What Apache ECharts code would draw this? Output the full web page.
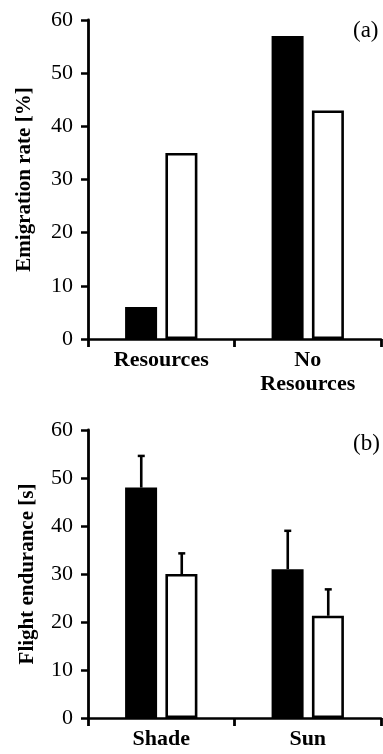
<!DOCTYPE html>
<html>
<head>
<meta charset="utf-8">
<script src="https://cdn.jsdelivr.net/npm/echarts@6/dist/echarts.min.js"></script>
<style>
html,body{margin:0;padding:0;background:#fff;}
#chart{width:383px;height:754px;}
</style>
</head>
<body>
<div id="chart"></div>
<script>
// Panel (a)
var catsA = ['Resources', 'No\nResources'];
var blackA = [6, 57];
var whiteA = [35, 43];
// Panel (b)
var catsB = ['Shade', 'Sun'];
var blackB = [48, 31];
var blackBErr = [54.6, 39];
var whiteB = [30, 21.3];
var whiteBErr = [34.3, 26.8];
var yTicks = [0, 10, 20, 30, 40, 50, 60];

var FONT = "'Liberation Serif','Times New Roman',serif";
var chart = echarts.init(document.getElementById('chart'));

function yAxis(gridIndex, name, gap) {
  return {
    gridIndex: gridIndex, type: 'value', min: yTicks[0], max: yTicks[yTicks.length - 1], interval: 10,
    name: name, nameLocation: 'middle', nameGap: gap, nameRotate: 90,
    nameTextStyle: {fontFamily: FONT, fontWeight: 'bold', fontSize: 21, color: '#000'},
    axisLine: {show: true, lineStyle: {color: '#000', width: 2.8}},
    axisTick: {show: true, inside: false, length: 7, lineStyle: {color: '#000', width: 2.5}},
    axisLabel: {fontFamily: FONT, fontSize: 22, color: '#000', margin: 15},
    splitLine: {show: false}
  };
}
function xAxis(gridIndex, data) {
  return {
    gridIndex: gridIndex, type: 'category', data: data, boundaryGap: true,
    axisLine: {show: true, lineStyle: {color: '#000', width: 2.5}},
    axisTick: {show: true, alignWithLabel: false, length: 8, lineStyle: {color: '#000', width: 2.8}},
    axisLabel: {fontFamily: FONT, fontWeight: 'bold', fontSize: 22, color: '#000', margin: 9, lineHeight: 24, interval: 0}
  };
}
function barSeries(idx, data, fill) {
  return {
    type: 'bar', xAxisIndex: idx, yAxisIndex: idx, data: data,
    barWidth: 32, barGap: '26%',
    itemStyle: {color: fill, borderColor: '#000', borderWidth: 2.6},
    silent: true, animation: false
  };
}
function errSeries(vals, errs, offset) {
  var d = vals.map(function (v, i) { return [i, v, errs[i]]; });
  return {
    type: 'custom', xAxisIndex: 1, yAxisIndex: 1, data: d, z: 10, animation: false, silent: true,
    renderItem: function (params, api) {
      var base = api.coord([api.value(0), api.value(1)]);
      var top = api.coord([api.value(0), api.value(2)]);
      var x = base[0] + offset;
      return {type: 'group', children: [
        {type: 'line', shape: {x1: x, y1: base[1], x2: x, y2: top[1]}, style: {stroke: '#000', lineWidth: 2.6}},
        {type: 'line', shape: {x1: x - 3.5, y1: top[1], x2: x + 3.5, y2: top[1]}, style: {stroke: '#000', lineWidth: 2.5}}
      ]};
    }
  };
}

chart.setOption({
  backgroundColor: '#fff',
  animation: false,
  title: [
    {text: '(a)', left: 348, top: 14, textStyle: {fontFamily: FONT, fontWeight: 'normal', fontSize: 23, color: '#000'}},
    {text: '(b)', left: 348, top: 427, textStyle: {fontFamily: FONT, fontWeight: 'normal', fontSize: 23, color: '#000'}}
  ],
  grid: [
    {left: 88, right: 2, top: 20, height: 319},
    {left: 88, right: 2, top: 430, height: 288}
  ],
  xAxis: [xAxis(0, catsA), xAxis(1, catsB)],
  yAxis: [yAxis(0, 'Emigration rate [%]', 53), yAxis(1, 'Flight endurance [s]', 50)],
  series: [
    barSeries(0, blackA, '#000'),
    barSeries(0, whiteA, '#fff'),
    barSeries(1, blackB, '#000'),
    barSeries(1, whiteB, '#fff'),
    errSeries(blackB, blackBErr, -20),
    errSeries(whiteB, whiteBErr, 20.5)
  ]
});
</script>
</body>
</html>
